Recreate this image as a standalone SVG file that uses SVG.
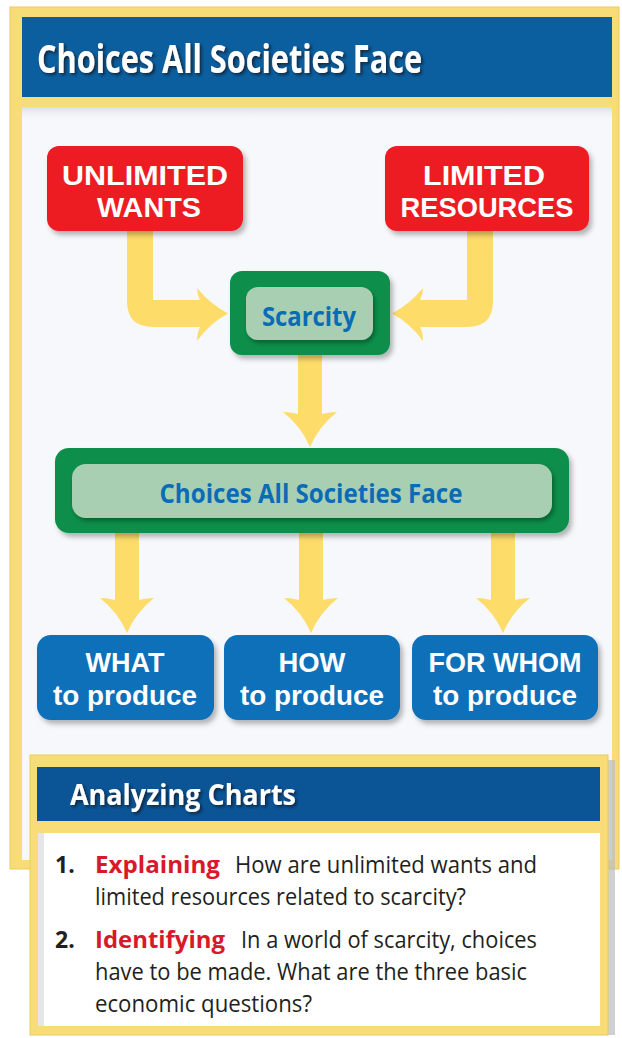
<svg xmlns="http://www.w3.org/2000/svg" width="622" height="1038" viewBox="0 0 622 1038">
<defs>
<filter id="sh" x="-10%" y="-10%" width="125%" height="130%">
<feDropShadow dx="3" dy="4" stdDeviation="2.5" flood-color="#000" flood-opacity="0.28"/>
</filter>
<filter id="shIn" x="-10%" y="-10%" width="125%" height="140%">
<feDropShadow dx="2" dy="3" stdDeviation="2" flood-color="#03441f" flood-opacity="0.6"/>
</filter>
<filter id="tsh" x="-5%" y="-20%" width="115%" height="150%">
<feDropShadow dx="2" dy="2" stdDeviation="1.5" flood-color="#0a1a33" flood-opacity="0.85"/>
</filter>
<linearGradient id="topShade" x1="0" y1="0" x2="0" y2="1">
<stop offset="0" stop-color="#d9dde3"/>
<stop offset="1" stop-color="#f6f8fb" stop-opacity="0"/>
</linearGradient>
</defs>
<style>
.frame{fill:#f8dc78;stroke:#eccb5a;stroke-width:1}
.hdr{fill:#0c5f9e}
.hdr2{fill:#0b5597}
.red{fill:#ec1c24}
.grn{fill:#0a8f4b}
.lgrn{fill:#a9cfb3}
.blu{fill:#0a6fb8}
.arrow{fill:#fddc6a}
.wb{font-family:"Open Sans","Noto Sans","Liberation Sans",sans-serif;font-weight:700;fill:#fff}
.wl{font-family:"Liberation Sans",Arial,sans-serif;font-weight:700;fill:#fff}
.bt{font-family:"Open Sans","Noto Sans","Liberation Sans",sans-serif;font-weight:700;fill:#0a6cb4}
.q{font-family:"Open Sans","Noto Sans","Liberation Sans",sans-serif;font-size:23px;fill:#231f20}
.qb{font-weight:700}
.qr{font-weight:700;fill:#d7192a}
</style>

<!-- outer frame -->
<g id="frame">
<rect class="frame" x="10" y="7" width="609" height="862"/>
<rect x="22" y="107" width="590" height="753" fill="#f6f8fb"/>
<rect x="22" y="107" width="590" height="14" fill="url(#topShade)"/>
<rect class="hdr" x="22" y="17" width="590" height="80"/>
<text class="wb" x="37" y="73" font-size="40" textLength="385" lengthAdjust="spacingAndGlyphs" filter="url(#tsh)">Choices All Societies Face</text>
</g>

<!-- connectors -->
<g id="connectors">
<path class="arrow" d="M127,231 H153 V300 H200 Q197,294 197,288 Q210,304 228,313.5 Q210,323 197,341 Q197,333 200,327 H153 Q127,327 127,301 Z"/>
<path class="arrow" d="M493,231 H467 V300 H420 Q423,294 423,288 Q410,304 392,313.5 Q410,323 423,341 Q423,333 420,327 H467 Q493,327 493,301 Z"/>
<path class="arrow" d="M298,355 H322 V414 Q330,412 337,412 Q319,426 310,447 Q301,426 283,412 Q290,412 298,414 Z"/>
<path class="arrow" d="M115,533 H139 V600 Q147,598 154,598 Q136,612 127,633 Q118,612 100,598 Q107,598 115,600 Z"/>
<path class="arrow" d="M299,533 H323 V600 Q331,598 338,598 Q320,612 311,633 Q302,612 284,598 Q291,598 299,600 Z"/>
<path class="arrow" d="M491,533 H515 V600 Q523,598 530,598 Q512,612 503,633 Q494,612 476,598 Q483,598 491,600 Z"/>
</g>

<g id="unlimited-wants">
<rect class="red" x="47" y="146" width="196" height="85" rx="12" filter="url(#sh)"/>
<text class="wl" x="145" y="185" font-size="28.5" text-anchor="middle" textLength="166" lengthAdjust="spacingAndGlyphs">UNLIMITED</text>
<text class="wl" x="149" y="217" font-size="28.5" text-anchor="middle" textLength="104" lengthAdjust="spacingAndGlyphs">WANTS</text>
</g>

<g id="limited-resources">
<rect class="red" x="385" y="146" width="204" height="85" rx="12" filter="url(#sh)"/>
<text class="wl" x="484" y="185" font-size="28.5" text-anchor="middle" textLength="122" lengthAdjust="spacingAndGlyphs">LIMITED</text>
<text class="wl" x="487" y="217" font-size="28.5" text-anchor="middle" textLength="173" lengthAdjust="spacingAndGlyphs">RESOURCES</text>
</g>

<g id="scarcity">
<rect class="grn" x="230" y="271" width="160" height="84" rx="12" filter="url(#sh)"/>
<rect class="lgrn" x="246" y="287" width="127" height="53" rx="12" filter="url(#shIn)"/>
<text class="bt" x="309" y="326" font-size="27" text-anchor="middle" textLength="94" lengthAdjust="spacingAndGlyphs">Scarcity</text>
</g>

<g id="choices">
<rect class="grn" x="55" y="448" width="514" height="85" rx="14" filter="url(#sh)"/>
<rect class="lgrn" x="72" y="464" width="480" height="54" rx="14" filter="url(#shIn)"/>
<text class="bt" x="311" y="503" font-size="27" text-anchor="middle" textLength="303" lengthAdjust="spacingAndGlyphs">Choices All Societies Face</text>
</g>

<g id="what">
<rect class="blu" x="37" y="635" width="177" height="85" rx="14" filter="url(#sh)"/>
<text class="wl" x="125" y="672" font-size="28.5" text-anchor="middle" textLength="79" lengthAdjust="spacingAndGlyphs">WHAT</text>
<text class="wl" x="125" y="705" font-size="28.5" text-anchor="middle" textLength="144" lengthAdjust="spacingAndGlyphs">to produce</text>
</g>

<g id="how">
<rect class="blu" x="224" y="635" width="176" height="85" rx="14" filter="url(#sh)"/>
<text class="wl" x="312" y="672" font-size="28.5" text-anchor="middle" textLength="67" lengthAdjust="spacingAndGlyphs">HOW</text>
<text class="wl" x="312" y="705" font-size="28.5" text-anchor="middle" textLength="144" lengthAdjust="spacingAndGlyphs">to produce</text>
</g>

<g id="for-whom">
<rect class="blu" x="412" y="635" width="186" height="85" rx="14" filter="url(#sh)"/>
<text class="wl" x="505" y="672" font-size="28.5" text-anchor="middle" textLength="153" lengthAdjust="spacingAndGlyphs">FOR WHOM</text>
<text class="wl" x="505" y="705" font-size="28.5" text-anchor="middle" textLength="144" lengthAdjust="spacingAndGlyphs">to produce</text>
</g>

<g id="analyzing-charts">
<rect x="608" y="760" width="7" height="275" fill="#b9bcc2" opacity="0.7"/>
<rect class="frame" x="30" y="755" width="578" height="280"/>
<rect class="hdr2" x="37" y="767" width="563" height="54"/>
<rect x="38" y="833" width="562" height="193" fill="#fff"/>
<rect x="38" y="833" width="6" height="193" fill="#d9dce1" opacity="0.7"/>
<text class="wb" x="70" y="805" font-size="28" textLength="226" lengthAdjust="spacingAndGlyphs" filter="url(#tsh)">Analyzing Charts</text>
<text class="q qb" x="55" y="873">1.</text>
<text class="q qr" x="95" y="873" textLength="125" lengthAdjust="spacingAndGlyphs">Explaining</text>
<text class="q" x="235" y="873" textLength="302" lengthAdjust="spacingAndGlyphs">How are unlimited wants and</text>
<text class="q" x="95" y="905" textLength="371" lengthAdjust="spacingAndGlyphs">limited resources related to scarcity?</text>
<text class="q qb" x="55" y="948">2.</text>
<text class="q qr" x="95" y="948" textLength="130" lengthAdjust="spacingAndGlyphs">Identifying</text>
<text class="q" x="241" y="948" textLength="296" lengthAdjust="spacingAndGlyphs">In a world of scarcity, choices</text>
<text class="q" x="95" y="980" textLength="432" lengthAdjust="spacingAndGlyphs">have to be made. What are the three basic</text>
<text class="q" x="95" y="1012" textLength="217" lengthAdjust="spacingAndGlyphs">economic questions?</text>
</g>
</svg>
